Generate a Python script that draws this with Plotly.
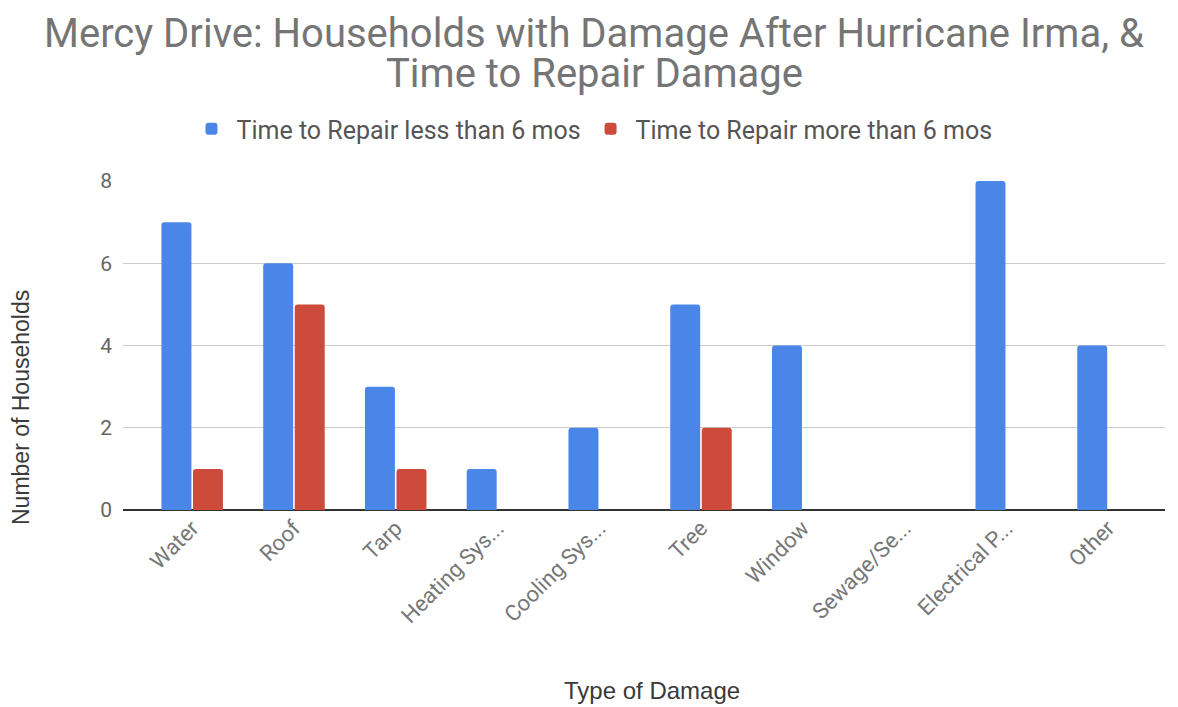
import plotly.graph_objects as go

categories = ["Water", "Roof", "Tarp", "Heating Sys...", "Cooling Sys...", "Tree",
              "Window", "Sewage/Se...", "Electrical P...", "Other"]
less_than_6 = [7, 6, 3, 1, 2, 5, 4, 0, 8, 4]
more_than_6 = [1, 5, 1, 0, 0, 2, 0, 0, 0, 0]
y_ticks = [0, 2, 4, 6, 8]

# page has an 8px body margin, so the figure is 8px smaller and everything shifts by 8
OFF = 8
W, H = 1178 - OFF, 707 - OFF
PL, PR, PT, PB = 123, 1165, 181, 510          # plot area in page pixels
L, R, T, B = PL - OFF, W - (PR - OFF), PT - OFF, H - (PB - OFF)
PW, PH = PR - PL, PB - PT


def px(xp):
    return (xp - PL) / PW


def py(yp):
    return (PB - yp) / PH


fig = go.Figure()
fig.add_trace(go.Bar(x=categories, y=less_than_6, name="Time to Repair less than 6 mos",
                     marker=dict(color="#4a86e8", line=dict(width=0))))
fig.add_trace(go.Bar(x=categories, y=more_than_6, name="Time to Repair more than 6 mos",
                     marker=dict(color="#cc4b3a", line=dict(width=0))))

title_font = dict(family="Roboto", size=40, color="#757575")
axis_title_font = dict(family="Liberation Sans", size=23, color="#3a3a3a")

fig.update_layout(
    width=W, height=H,
    margin=dict(l=L, r=R, t=T, b=B, autoexpand=False),
    paper_bgcolor="white", plot_bgcolor="white",
    font=dict(family="Roboto", color="#666666"),
    barmode="group", bargap=0.38, bargroupgap=0.05, barcornerradius=3,
    legend=dict(orientation="h", xref="paper", yref="paper",
                x=px(592), xanchor="center", y=py(129), yanchor="middle",
                font=dict(family="Roboto", size=25, color="#555555"),
                itemwidth=40, traceorder="normal"),
    xaxis=dict(range=[-0.68, 9.56], tickangle=-45, showgrid=False,
               tickfont=dict(family="Roboto", size=22, color="#777777"),
               ticks="", showline=False, zeroline=False),
    yaxis=dict(range=[0, 8], tickvals=y_ticks, showgrid=True, gridcolor="#cccccc", gridwidth=1.2,
               zeroline=True, zerolinecolor="#333333", zerolinewidth=2,
               tickfont=dict(family="Roboto", size=21, color="#666666"),
               ticklabelstandoff=10),
    annotations=[
        dict(text="Mercy Drive: Households with Damage After Hurricane Irma, &",
             xref="paper", yref="paper", x=px(594), y=py(34),
             xanchor="center", yanchor="middle", showarrow=False, borderpad=0,
             font=title_font),
        dict(text="Time to Repair Damage",
             xref="paper", yref="paper", x=px(594), y=py(73),
             xanchor="center", yanchor="middle", showarrow=False, borderpad=0,
             font=title_font),
        dict(text="Number of Households", xref="paper", yref="paper",
             x=px(21), y=py(408),
             xanchor="center", yanchor="middle", textangle=-90, showarrow=False,
             borderpad=0, font=axis_title_font),
        dict(text="Type of Damage", xref="paper", yref="paper",
             x=px(652), y=py(690),
             xanchor="center", yanchor="middle", showarrow=False,
             borderpad=0, font=dict(family="Liberation Sans", size=24, color="#3a3a3a")),
    ],
)

fig.write_html("out.html")
